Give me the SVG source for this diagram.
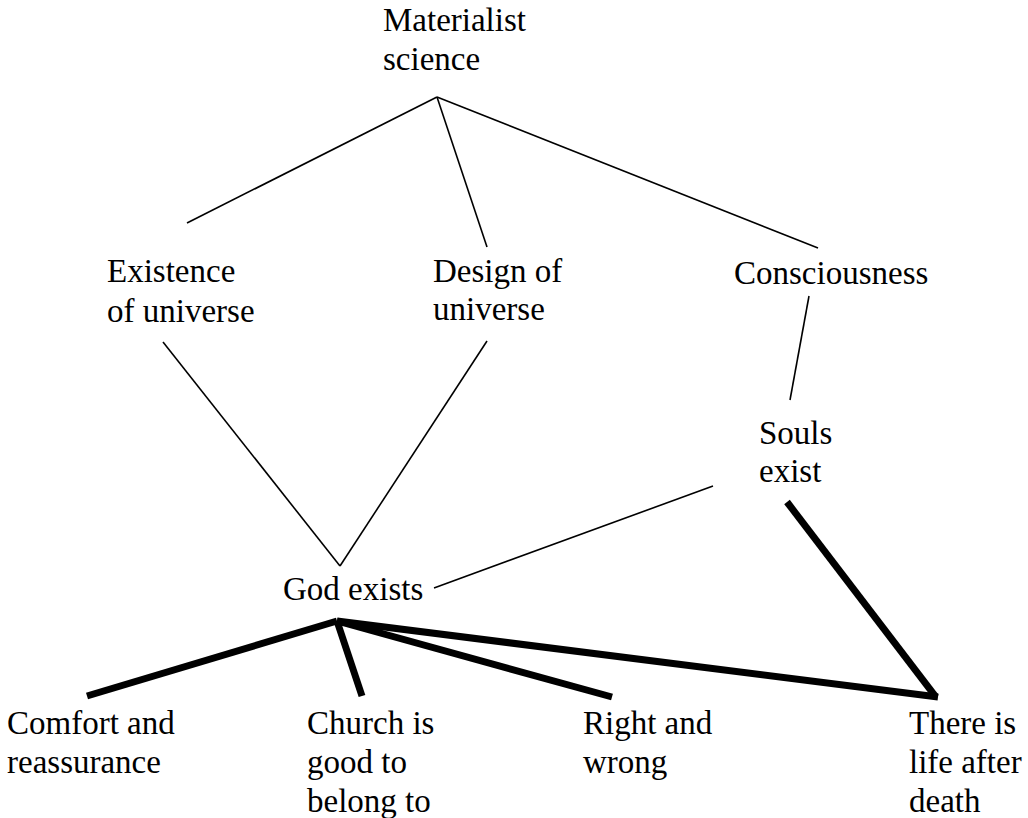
<svg xmlns="http://www.w3.org/2000/svg" width="1028" height="818" viewBox="0 0 1028 818">
<style>
text{font-family:'Liberation Serif','Times New Roman',Tinos,'DejaVu Serif',serif;font-size:33px;fill:#000}
.thin{stroke:#000;stroke-width:1.6;fill:none}
.thick{stroke:#000;stroke-width:7;fill:none;stroke-linecap:butt}
</style>
<rect width="1028" height="818" fill="#fff"/>
<g id="connectors">
<line class="thin" x1="437" y1="97" x2="187" y2="223"/>
<line class="thin" x1="437" y1="97" x2="487" y2="247"/>
<line class="thin" x1="437" y1="97" x2="818" y2="248"/>
<line class="thin" x1="163" y1="342" x2="340" y2="566"/>
<line class="thin" x1="487" y1="341" x2="340" y2="566"/>
<line class="thin" x1="809" y1="296" x2="790" y2="400"/>
<line class="thin" x1="713" y1="486" x2="434" y2="588"/>
<line class="thick" x1="337" y1="621" x2="87" y2="696"/>
<line class="thick" x1="337" y1="621" x2="362" y2="696"/>
<line class="thick" x1="337" y1="621" x2="612" y2="697"/>
<line class="thick" x1="337" y1="621" x2="938" y2="697"/>
<line class="thick" x1="787" y1="502" x2="936" y2="697"/>
</g>
<g id="materialist" font-family="Liberation Serif, serif"><text x="383" y="31">Materialist</text><text x="383" y="70">science</text></g>
<g id="existence"><text x="107" y="282">Existence</text><text x="107" y="322">of universe</text></g>
<g id="design"><text x="433" y="282">Design of</text><text x="433" y="320">universe</text></g>
<g id="consciousness"><text x="734" y="284">Consciousness</text></g>
<g id="souls"><text x="759" y="444">Souls</text><text x="759" y="482">exist</text></g>
<g id="god"><text x="283" y="600">God exists</text></g>
<g id="comfort"><text x="7" y="734">Comfort and</text><text x="7" y="773">reassurance</text></g>
<g id="church"><text x="307" y="734">Church is</text><text x="307" y="773">good to</text><text x="307" y="812">belong to</text></g>
<g id="right"><text x="583" y="734">Right and</text><text x="583" y="773">wrong</text></g>
<g id="life"><text x="909" y="734">There is</text><text x="909" y="773">life after</text><text x="909" y="812">death</text></g>
</svg>
